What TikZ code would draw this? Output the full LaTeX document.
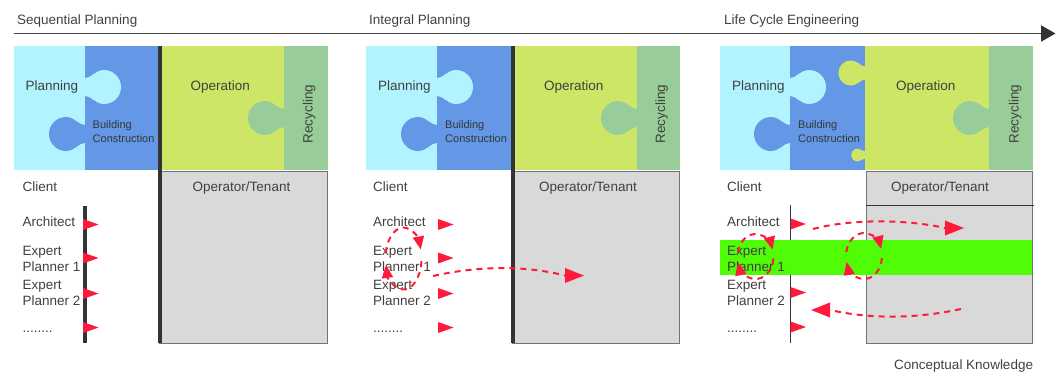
\documentclass[tikz,border=0pt]{standalone}
\usepackage{fontspec}
\setmainfont{Liberation Sans}
\usetikzlibrary{arrows.meta}
\definecolor{txt}{HTML}{404040}
\definecolor{plan}{HTML}{B1F3FF}
\definecolor{build}{HTML}{6497E5}
\definecolor{oper}{HTML}{CEE665}
\definecolor{recy}{HTML}{98CC98}
\definecolor{boxg}{HTML}{D9D9D9}
\definecolor{flag}{HTML}{FF1A3C}
\definecolor{band}{HTML}{50FC06}
\definecolor{dark}{HTML}{333333}
\newcommand\knob[5]{\fill[#5,shift={(#1,#2)},xscale=#3,scale=#4] (-.5,-9) -- (0,-9) .. controls (6,-8.5) and (10,-17) .. (19,-17) arc[start angle=-90,end angle=90,radius=17] .. controls (10,17) and (6,8.5) .. (0,9) -- (-.5,9) -- cycle;}
\newcommand\flagat[2]{\fill[flag] (#1,#2-5.5) -- (#1+15.5,#2) -- (#1,#2+5.5) -- cycle;}
\tikzset{
  lbl/.style={anchor=base west,inner sep=0pt,text=txt,font=\fontsize{13.5}{15}\selectfont},
  small/.style={anchor=base west,inner sep=0pt,text=txt!85!black,font=\fontsize{11}{12}\selectfont},
  flow/.style={flag,line width=2pt,dash pattern=on 6pt off 5pt},
  bighead/.style={-{Triangle[length=19pt,width=14.5pt,flag]}},
  lowhead/.style={-{Triangle[length=13pt,width=11pt,flag]}},
}
\begin{document}
\begin{tikzpicture}[x=1pt,y=-1pt]
\useasboundingbox (0,0) rectangle (1062,373);
% time axis
\coordinate (axisstart) at (14,33.5);
\coordinate (axisend) at (1055.5,33.5);
\draw[dark!90,line width=1.9pt,-{Triangle[length=14.5pt,width=16pt,dark]}] (axisstart) -- (axisend);
\node[lbl] (title1) at (17,24) {Sequential Planning};
\node[lbl] (title2) at (369,24) {Integral Planning};
\node[lbl] (title3) at (724,24) {Life Cycle Engineering};
% panels
\foreach \n/\xa/\xb/\xc/\xd/\xe/\xl/\xp/\xo/\xu/\xr/\xs in {
  a/14/85/158/284/328/22.5/25.5/190.5/192.5/312.5/92.5,
  b/366/437/511/637/680/373/378/544/539/665/445,
  c/720/790/865/989/1033/727/732/896/891/1018.5/798}{
  \fill[plan] (\xa,46) rectangle (\xb,170);
  \fill[build] (\xb,46) rectangle (\xc,170);
  \fill[oper] (\xc,46) rectangle (\xd,170);
  \fill[recy] (\xd,46) rectangle (\xe,170);
  \knob{\xb}{87}{1}{1}{plan}
  \knob{\xb}{134}{-1}{1}{build}
  \knob{\xd}{118}{-1}{1}{recy}
  \filldraw[fill=boxg,draw=black!55,line width=1pt] (\xc+1,171.5) rectangle (\xe-.5,343);
  \node[lbl] (\n plan) at (\xp,90) {Planning};
  \node[small] (\n b1) at (\xs,128) {Building};
  \node[small] (\n b2) at (\xs,142.5) {Construction};
  \node[lbl] (\n op) at (\xo,90) {Operation};
  \node[lbl,rotate=90,anchor=base] (\n rec) at (\xr,114) {Recycling};
  \node[lbl] (\n client) at (\xl,191) {Client};
  \node[lbl] (\n tenant) at (\xu,191) {Operator/Tenant};
}
% panel 3 extras
\knob{865}{73}{-1}{.74}{oper}
\knob{865}{155}{-1}{.38}{oper}
\draw[dark,line width=.8pt] (866,205) -- (1034,205);
\draw[dark,line width=.8pt] (790.5,205) -- (790.5,343);
\fill[band] (720,240) rectangle (1032,275);
% dividers
\fill[dark] (158,46) rectangle (162,343);
\fill[dark] (511,46) rectangle (514.5,343);
\fill[dark] (83.2,206) rectangle (87,343);
% flags
\foreach \y in {224.5,258,293.5,327.5}{\flagat{83}{\y}\flagat{438}{\y}}
\foreach \y in {224,292.5,327}{\flagat{790.5}{\y}}
% left-column labels
\foreach \n/\x in {a/22.5,b/373,c/727}{
  \node[lbl] (\n arch) at (\x,226) {Architect};
  \node[lbl] (\n e1) at (\x,255) {Expert};
  \node[lbl] (\n p1) at (\x,271) {Planner 1};
  \node[lbl] (\n e2) at (\x,289) {Expert};
  \node[lbl] (\n p2) at (\x,305) {Planner 2};
  \node[lbl] (\n dots) at (\x,332) {........};
}
% panel 2 flows
\coordinate (b1s) at (433,276);
\coordinate (b1m) at (565,275.5);
\coordinate (b1e) at (584,275.5);
\draw[flow,bighead] (b1s) .. controls (480,265.5) and (525,265.5) .. (b1m) -- (b1e);
\coordinate (b2c) at (403.5,258.5);
\draw[flow,lowhead] (b2c) ++(190:18 and 31) arc[start angle=190,end angle=343,x radius=18,y radius=31];
\draw[flow,lowhead] (b2c) ++(5:18 and 31) arc[start angle=5,end angle=168,x radius=18,y radius=31];
% panel 3 flows
\coordinate (c1s) at (813,229);
\coordinate (c1m) at (945,228);
\coordinate (c1e) at (964,228);
\draw[flow,bighead] (c1s) .. controls (850,219) and (905,219) .. (c1m) -- (c1e);
\coordinate (c2s) at (961,309);
\coordinate (c2m) at (830,310);
\coordinate (c2e) at (811,310);
\draw[flow,bighead] (c2s) .. controls (915,319) and (870,319) .. (c2m) -- (c2e);
\coordinate (c3c) at (755.5,256.5);
\draw[flow,lowhead] (c3c) ++(190:18 and 22.5) arc[start angle=190,end angle=342,x radius=18,y radius=22.5];
\draw[flow,lowhead] (c3c) ++(5:18 and 22.5) arc[start angle=5,end angle=165,x radius=18,y radius=22.5];
\coordinate (c4c) at (864,256);
\draw[flow,lowhead] (c4c) ++(190:18 and 23) arc[start angle=190,end angle=342,x radius=18,y radius=23];
\draw[flow,lowhead] (c4c) ++(5:18 and 23) arc[start angle=5,end angle=165,x radius=18,y radius=23];
\node[lbl] (concept) at (894,369) {Conceptual Knowledge};
\end{tikzpicture}
\end{document}
